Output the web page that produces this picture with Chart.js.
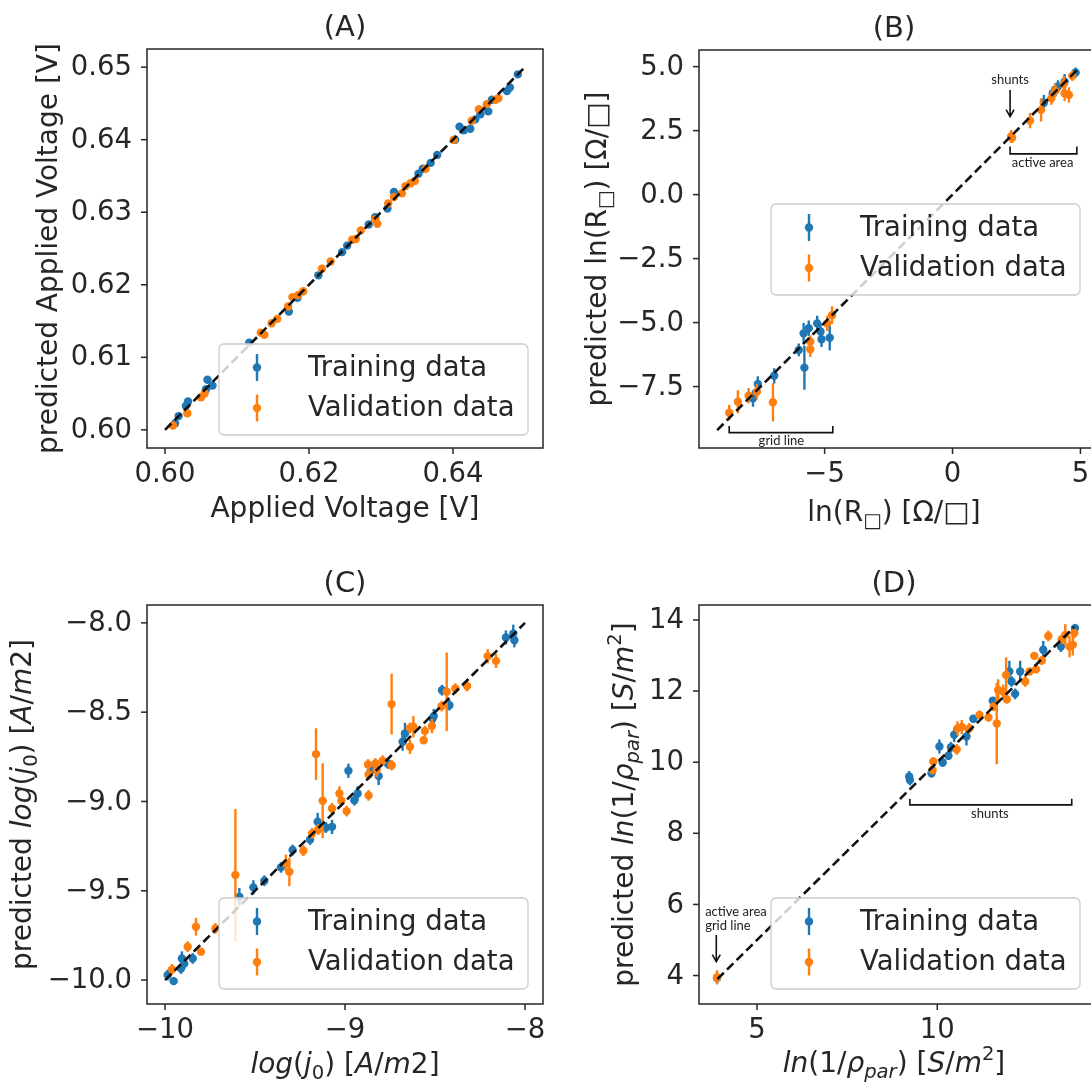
<!DOCTYPE html>
<html>
<head>
<meta charset="utf-8">
<script src="https://cdn.jsdelivr.net/npm/chart.js@4.4.0/dist/chart.umd.min.js"></script>
<style>
html, body { margin: 0; padding: 0; background: #fff; overflow: hidden; width: 1091px; height: 1086px; }
canvas { position: absolute; left: 0; top: 0; }
</style>
</head>
<body>
<canvas id="panel-a" width="1100" height="1086"></canvas>
<canvas id="panel-b" width="1100" height="1086"></canvas>
<canvas id="panel-c" width="1100" height="1086"></canvas>
<canvas id="panel-d" width="1100" height="1086"></canvas>
<script>
// ---- Panel A: applied voltage ----
const aTrainX = [0.6014, 0.6019, 0.6029, 0.6032, 0.6057, 0.6059, 0.6066, 0.6117, 0.6172, 0.6184, 0.6213, 0.6246, 0.6253, 0.6283, 0.6292, 0.6309, 0.6318, 0.6352, 0.6358, 0.6369, 0.6378, 0.6403, 0.6409, 0.6415, 0.6424, 0.6431, 0.6438, 0.6449, 0.6454, 0.6475, 0.6479, 0.6490];
const aTrainY = [0.6009, 0.6019, 0.6033, 0.6039, 0.6056, 0.6069, 0.6061, 0.6120, 0.6163, 0.6182, 0.6213, 0.6245, 0.6254, 0.6283, 0.6293, 0.6305, 0.6328, 0.6353, 0.6360, 0.6368, 0.6379, 0.6400, 0.6418, 0.6413, 0.6415, 0.6428, 0.6435, 0.6439, 0.6455, 0.6467, 0.6472, 0.6490];
const aTrainErr = [0.0002, 0.0003, 0.0003, 0.0002, 0.0003, 0.0002, 0.0003, 0.0002, 0.0003, 0.0003, 0.0002, 0.0002, 0.0003, 0.0002, 0.0003, 0.0002, 0.0005, 0.0002, 0.0003, 0.0002, 0.0002, 0.0003, 0.0002, 0.0003, 0.0002, 0.0003, 0.0002, 0.0003, 0.0002, 0.0003, 0.0002, 0.0002];
const aValX = [0.6011, 0.6031, 0.6050, 0.6055, 0.6133, 0.6138, 0.6148, 0.6156, 0.6171, 0.6177, 0.6185, 0.6192, 0.6218, 0.6230, 0.6260, 0.6265, 0.6272, 0.6292, 0.6295, 0.6310, 0.6318, 0.6329, 0.6334, 0.6341, 0.6347, 0.6362, 0.6401, 0.6426, 0.6436, 0.6447, 0.6459, 0.6463];
const aValY = [0.6006, 0.6023, 0.6045, 0.6050, 0.6134, 0.6131, 0.6147, 0.6153, 0.6170, 0.6183, 0.6186, 0.6191, 0.6222, 0.6232, 0.6262, 0.6263, 0.6275, 0.6290, 0.6284, 0.6312, 0.6321, 0.6326, 0.6336, 0.6340, 0.6343, 0.6360, 0.6400, 0.6426, 0.6442, 0.6449, 0.6455, 0.6457];
const aValErr = [0.0002, 0.0002, 0.0003, 0.0002, 0.0005, 0.0003, 0.0002, 0.0004, 0.0003, 0.0002, 0.0003, 0.0002, 0.0002, 0.0003, 0.0002, 0.0003, 0.0002, 0.0003, 0.0004, 0.0002, 0.0003, 0.0002, 0.0002, 0.0003, 0.0002, 0.0002, 0.0003, 0.0002, 0.0003, 0.0002, 0.0003, 0.0002];
const aLine = [0.600, 0.650];
const aXTicks = [0.60, 0.62, 0.64];
const aXTickLabels = ['0.60', '0.62', '0.64'];
const aYTicks = [0.60, 0.61, 0.62, 0.63, 0.64, 0.65];
const aYTickLabels = ['0.60', '0.61', '0.62', '0.63', '0.64', '0.65'];

// ---- Panel B: sheet resistance ----
const bTrainX = [-7.80, -7.61, -6.97, -6.01, -5.82, -5.79, -5.62, -5.29, -5.16, -5.12, -4.80, 3.57, 3.92, 4.02, 4.12, 4.38, 4.81];
const bTrainY = [-7.96, -7.40, -7.08, -6.07, -5.42, -6.76, -5.22, -5.03, -5.35, -5.65, -5.59, 3.59, 3.96, 4.10, 4.22, 4.41, 4.77];
const bTrainErr = [0.33, 0.30, 0.30, 0.25, 0.40, 0.86, 0.30, 0.30, 0.30, 0.30, 0.50, 0.30, 0.25, 0.25, 0.25, 0.30, 0.20];
const bValX = [-8.73, -8.39, -7.97, -7.65, -7.02, -5.56, -5.56, -4.90, -4.71, 2.29, 2.33, 3.03, 3.46, 3.86, 4.01, 4.35, 4.38, 4.55, 4.68];
const bValY = [-8.52, -8.09, -7.86, -7.70, -8.11, -5.74, -6.04, -5.03, -4.71, 2.27, 2.22, 2.89, 3.31, 3.76, 4.06, 4.32, 3.96, 3.89, 4.64];
const bValErr = [0.30, 0.45, 0.30, 0.30, 0.75, 0.25, 0.30, 0.30, 0.35, 0.25, 0.20, 0.30, 0.45, 0.25, 0.25, 0.30, 0.30, 0.30, 0.20];
const bLine = [-9.2, 4.9];
const bXTicks = [-5, 0, 5];
const bXTickLabels = ['\u22125', '0', '5'];
const bYTicks = [-7.5, -5, -2.5, 0, 2.5, 5];
const bYTickLabels = ['\u22127.5', '\u22125.0', '\u22122.5', '0.0', '2.5', '5.0'];

// ---- Panel C: saturation current ----
const cTrainX = [-9.985, -9.952, -9.906, -9.911, -9.893, -9.846, -9.587, -9.509, -9.448, -9.356, -9.291, -9.194, -9.152, -9.106, -9.072, -8.981, -8.948, -8.930, -8.856, -8.813, -8.763, -8.680, -8.667, -8.513, -8.507, -8.461, -8.420, -8.106, -8.065, -8.059];
const cTrainY = [-9.972, -10.006, -9.879, -9.935, -9.907, -9.879, -9.534, -9.481, -9.444, -9.369, -9.272, -9.213, -9.114, -9.146, -9.142, -8.828, -8.993, -8.955, -8.825, -8.858, -8.787, -8.666, -8.619, -8.535, -8.522, -8.377, -8.461, -8.082, -8.060, -8.097];
const cTrainErr = [0.03, 0.02, 0.04, 0.03, 0.03, 0.03, 0.05, 0.04, 0.03, 0.03, 0.03, 0.03, 0.05, 0.03, 0.04, 0.04, 0.03, 0.04, 0.03, 0.05, 0.03, 0.05, 0.06, 0.03, 0.04, 0.03, 0.03, 0.04, 0.05, 0.04];
const cValX = [-9.961, -9.874, -9.828, -9.800, -9.720, -9.609, -9.328, -9.309, -9.231, -9.183, -9.161, -9.148, -9.124, -9.072, -9.031, -9.020, -8.991, -8.872, -8.869, -8.869, -8.831, -8.824, -8.791, -8.741, -8.741, -8.639, -8.639, -8.620, -8.563, -8.556, -8.517, -8.463, -8.435, -8.387, -8.322, -8.207, -8.161];
const cValY = [-9.940, -9.813, -9.701, -9.841, -9.711, -9.412, -9.347, -9.394, -9.276, -9.179, -8.735, -9.157, -8.996, -9.039, -8.955, -8.996, -9.054, -8.793, -8.849, -8.966, -8.787, -8.825, -8.772, -8.797, -8.455, -8.588, -8.694, -8.582, -8.657, -8.606, -8.578, -8.466, -8.386, -8.368, -8.354, -8.187, -8.213];
const cValErr = [0.03, 0.03, 0.05, 0.02, 0.03, 0.37, 0.05, 0.08, 0.03, 0.03, 0.145, 0.03, 0.21, 0.03, 0.04, 0.03, 0.03, 0.03, 0.03, 0.03, 0.03, 0.04, 0.03, 0.03, 0.17, 0.03, 0.04, 0.06, 0.02, 0.03, 0.04, 0.03, 0.22, 0.03, 0.03, 0.04, 0.04];
const cLine = [-10, -8];
const cXTicks = [-10, -9, -8];
const cXTickLabels = ['\u221210', '\u22129', '\u22128'];
const cYTicks = [-10, -9.5, -9, -8.5, -8];
const cYTickLabels = ['\u221210.0', '\u22129.5', '\u22129.0', '\u22128.5', '\u22128.0'];

// ---- Panel D: parallel conductance ----
const dTrainX = [3.89, 9.22, 9.24, 9.84, 10.06, 10.15, 10.31, 10.38, 10.47, 10.81, 11.00, 11.54, 12.00, 12.06, 12.16, 12.30, 12.94, 13.43, 13.82];
const dTrainY = [3.93, 9.60, 9.50, 9.69, 10.44, 9.99, 10.18, 10.42, 10.77, 10.72, 11.22, 11.73, 12.55, 12.27, 11.92, 12.55, 13.16, 13.25, 13.77];
const dTrainErr = [0.15, 0.15, 0.15, 0.12, 0.20, 0.12, 0.12, 0.15, 0.20, 0.25, 0.10, 0.10, 0.30, 0.15, 0.15, 0.30, 0.25, 0.15, 0.12];
const dValX = [3.89, 9.87, 9.89, 10.54, 10.56, 10.68, 10.89, 11.17, 11.42, 11.56, 11.65, 11.69, 11.83, 11.91, 11.93, 12.44, 12.56, 12.69, 12.74, 12.90, 13.08, 13.45, 13.55, 13.67, 13.76, 13.80];
const dValY = [3.95, 9.78, 10.02, 10.36, 10.95, 10.99, 10.95, 11.33, 11.26, 11.56, 11.09, 12.03, 11.98, 12.45, 11.77, 12.27, 12.55, 12.99, 12.61, 12.86, 13.55, 13.46, 13.58, 13.25, 13.30, 13.63];
const dValErr = [0.20, 0.12, 0.12, 0.15, 0.20, 0.20, 0.15, 0.12, 0.12, 0.12, 1.15, 0.30, 0.20, 0.50, 0.12, 0.15, 0.10, 0.10, 0.10, 0.12, 0.15, 0.12, 0.30, 0.30, 0.30, 0.15];
const dLine = [3.9, 13.8];
const dXTicks = [5, 10];
const dXTickLabels = ['5', '10'];
const dYTicks = [4, 6, 8, 10, 12, 14];
const dYTickLabels = ['4', '6', '8', '10', '12', '14'];

const BLUE = '#1f77b4';
const ORANGE = '#ff7f0e';
const INK = '#262626';
const FONT = '"DejaVu Sans"';
const PAGE_W = 1100, PAGE_H = 1086;

// rich text parts: [text, style] - style letters: i italic, b subscript, p superscript
const jLabel = [['log', 'i'], ['(', ''], ['j', 'i'], ['0', 'b'], [') [', ''], ['A', 'i'], ['/', ''], ['m', 'i'], ['2', ''], [']', '']];
const rhoLabel = [['ln', 'i'], ['(1/', ''], ['\u03c1', 'i'], ['par', 'ib'], [') [', ''], ['S', 'i'], ['/', ''], ['m', 'i'], ['2', 'p'], [']', '']];
const rshLabel = [['ln(R', ''], ['\u25a1', 'b'], [') [\u03a9/\u25a1]', '']];

const panels = [
    {
        id: 'panel-a', title: '(A)',
        area: { l: 147, t: 49, r: 543, b: 448 },
        xRange: [0.5975, 0.6525], yRange: [0.5975, 0.6525],
        train: [aTrainX, aTrainY, aTrainErr], val: [aValX, aValY, aValErr], line: aLine,
        xTicks: aXTicks, xTickLabels: aXTickLabels, yTicks: aYTicks, yTickLabels: aYTickLabels,
        xLabel: [['Applied Voltage [V]', '']], yLabel: [['predicted Applied Voltage [V]', '']],
        xLabelY: 517, yLabelX: 57,
        legendBox: { r: 528, b: 435 },
        notes: []
    },
    {
        id: 'panel-b', title: '(B)',
        area: { l: 699, t: 50, r: 1097, b: 448 },
        xRange: [-9.91, 5.6], yRange: [-9.9, 5.65],
        train: [bTrainX, bTrainY, bTrainErr], val: [bValX, bValY, bValErr], line: bLine,
        xTicks: bXTicks, xTickLabels: bXTickLabels, yTicks: bYTicks, yTickLabels: bYTickLabels,
        xLabel: rshLabel, yLabel: [['predicted ', '']].concat(rshLabel),
        xLabelY: 521, yLabelX: 606,
        legendBox: { r: 1080, b: 295 },
        notes: [
            { kind: 'text', x: 2.25, y: 4.5, text: 'shunts' },
            { kind: 'arrow', x: 2.25, y0: 4.09, y1: 3.05 },
            { kind: 'bracket', x0: 2.25, x1: 4.86, y: 1.59, y1: 1.875 },
            { kind: 'text', x: 3.52, y: 1.25, text: 'active area' },
            { kind: 'bracket', x0: -8.73, x1: -4.68, y: -9.30, y1: -9.04 },
            { kind: 'text', x: -6.69, y: -9.62, text: 'grid line' }
        ]
    },
    {
        id: 'panel-c', title: '(C)',
        area: { l: 147, t: 605, r: 543, b: 1004 },
        xRange: [-10.1, -7.9], yRange: [-10.134, -7.9],
        train: [cTrainX, cTrainY, cTrainErr], val: [cValX, cValY, cValErr], line: cLine,
        xTicks: cXTicks, xTickLabels: cXTickLabels, yTicks: cYTicks, yTickLabels: cYTickLabels,
        xLabel: jLabel, yLabel: [['predicted ', '']].concat(jLabel),
        xLabelY: 1073, yLabelX: 31,
        legendBox: { r: 528, b: 989 },
        notes: []
    },
    {
        id: 'panel-d', title: '(D)',
        area: { l: 699, t: 605, r: 1093, b: 1004 },
        xRange: [3.39, 14.32], yRange: [3.2, 14.42],
        train: [dTrainX, dTrainY, dTrainErr], val: [dValX, dValY, dValErr], line: dLine,
        xTicks: dXTicks, xTickLabels: dXTickLabels, yTicks: dYTicks, yTickLabels: dYTickLabels,
        xLabel: rhoLabel, yLabel: [['predicted ', '']].concat(rhoLabel),
        xLabelY: 1072, yLabelX: 633,
        legendBox: { r: 1080, b: 989 },
        notes: [
            { kind: 'bracket', x0: 9.24, x1: 13.73, y: 8.80, y1: 8.97 },
            { kind: 'text', x: 11.46, y: 8.56, text: 'shunts' },
            { kind: 'text', x: 3.56, y: 5.78, text: 'active area', align: 'left' },
            { kind: 'text', x: 3.56, y: 5.40, text: 'grid line', align: 'left' },
            { kind: 'arrow', x: 3.87, y0: 5.14, y1: 4.39 }
        ]
    }
];

// Draw text made of several styled pieces, centred on (x, y) baseline
function drawRich(ctx, parts, x, y, size, rotated) {
    ctx.save();
    ctx.translate(x, y);
    if (rotated) ctx.rotate(-Math.PI / 2);
    ctx.fillStyle = INK;
    ctx.textBaseline = 'alphabetic';
    ctx.textAlign = 'left';
    const pieces = parts.map(([text, style]) => {
        const small = style.includes('b') || style.includes('p');
        const fs = small ? size * 0.7 : size;
        const font = (style.includes('i') ? 'italic ' : '') + fs + 'px ' + FONT;
        ctx.font = font;
        const shift = style.includes('b') ? size * 0.22 : style.includes('p') ? -size * 0.42 : 0;
        return { text, font, shift, w: ctx.measureText(text).width };
    });
    const total = pieces.reduce((s, p) => s + p.w, 0);
    let cx = -total / 2;
    pieces.forEach(p => {
        ctx.font = p.font;
        ctx.fillText(p.text, cx, p.shift);
        cx += p.w;
    });
    ctx.restore();
}

// Vertical error bars, drawn just before each dataset's points
const errorBars = {
    id: 'errorBars',
    beforeDatasetDraw(chart, args) {
        const ds = chart.data.datasets[args.index];
        if (!ds.yErr) return;
        const { ctx, chartArea, scales: { x, y } } = chart;
        ctx.save();
        ctx.beginPath();
        ctx.rect(chartArea.left, chartArea.top, chartArea.width, chartArea.height);
        ctx.clip();
        ctx.strokeStyle = ds.backgroundColor;
        ctx.lineWidth = 2.4;
        ds.data.forEach((p, i) => {
            const px = x.getPixelForValue(p.x);
            ctx.beginPath();
            ctx.moveTo(px, y.getPixelForValue(p.y - ds.yErr[i]));
            ctx.lineTo(px, y.getPixelForValue(p.y + ds.yErr[i]));
            ctx.stroke();
        });
        ctx.restore();
    }
};

// Axes frame, ticks, labels, title, notes and legend
const decor = {
    id: 'decor',
    afterDraw(chart) {
        const panel = chart.options.plugins.decor.panel;
        const { ctx, chartArea: a, scales: { x, y } } = chart;
        ctx.save();

        // frame
        ctx.strokeStyle = INK;
        ctx.lineWidth = 1.5;
        ctx.strokeRect(a.left, a.top, a.right - a.left, a.bottom - a.top);

        // ticks
        ctx.fillStyle = INK;
        ctx.font = '27.5px ' + FONT;
        panel.xTicks.forEach((v, i) => {
            const px = x.getPixelForValue(v);
            ctx.beginPath();
            ctx.moveTo(px, a.bottom);
            ctx.lineTo(px, a.bottom + 6);
            ctx.stroke();
            ctx.textAlign = 'center';
            ctx.textBaseline = 'middle';
            ctx.fillText(panel.xTickLabels[i], px, a.bottom + 27);
        });
        panel.yTicks.forEach((v, i) => {
            const py = y.getPixelForValue(v);
            ctx.beginPath();
            ctx.moveTo(a.left, py);
            ctx.lineTo(a.left - 6, py);
            ctx.stroke();
            ctx.textAlign = 'right';
            ctx.textBaseline = 'middle';
            ctx.fillText(panel.yTickLabels[i], a.left - 15, py + 1);
        });

        // axis labels and title
        drawRich(ctx, panel.xLabel, (a.left + Math.min(a.right, 1089)) / 2, panel.xLabelY, 28, false);
        drawRich(ctx, panel.yLabel, panel.yLabelX, (a.top + a.bottom) / 2, 28, true);
        ctx.fillStyle = INK;
        ctx.font = '29px ' + FONT;
        ctx.textAlign = 'center';
        ctx.textBaseline = 'alphabetic';
        ctx.fillText(panel.title, (a.left + Math.min(a.right, 1089)) / 2, a.top - 13);

        // hand-made notes
        ctx.strokeStyle = '#111';
        ctx.fillStyle = '#222';
        ctx.lineWidth = 1.6;
        ctx.font = '13px Lato';
        panel.notes.forEach(n => {
            if (n.kind === 'text') {
                ctx.textAlign = n.align || 'center';
                ctx.textBaseline = 'middle';
                ctx.fillText(n.text, x.getPixelForValue(n.x), y.getPixelForValue(n.y));
            } else if (n.kind === 'arrow') {
                const px = x.getPixelForValue(n.x);
                const y0 = y.getPixelForValue(n.y0), y1 = y.getPixelForValue(n.y1);
                ctx.beginPath();
                ctx.moveTo(px, y0);
                ctx.lineTo(px, y1);
                ctx.moveTo(px - 4, y1 - 7);
                ctx.lineTo(px, y1);
                ctx.lineTo(px + 4, y1 - 7);
                ctx.stroke();
            } else if (n.kind === 'bracket') {
                const x0 = x.getPixelForValue(n.x0), x1 = x.getPixelForValue(n.x1);
                const py = y.getPixelForValue(n.y), py1 = y.getPixelForValue(n.y1);
                ctx.beginPath();
                ctx.moveTo(x0, py1);
                ctx.lineTo(x0, py);
                ctx.lineTo(x1, py);
                ctx.lineTo(x1, py1);
                ctx.stroke();
            }
        });

        // legend box
        const w = 309, h = 91;
        const bx = panel.legendBox.r - w;
        const by = panel.legendBox.b - h;
        ctx.beginPath();
        ctx.roundRect(bx, by, w, h, 5);
        ctx.fillStyle = 'rgba(255,255,255,0.8)';
        ctx.fill();
        ctx.strokeStyle = '#cccccc';
        ctx.lineWidth = 1.3;
        ctx.stroke();
        [['Training data', BLUE, 23.5], ['Validation data', ORANGE, 64]].forEach(([label, color, dy]) => {
            const cy = by + dy;
            ctx.strokeStyle = color;
            ctx.fillStyle = color;
            ctx.lineWidth = 2.4;
            ctx.beginPath();
            ctx.moveTo(bx + 38, cy - 13.5);
            ctx.lineTo(bx + 38, cy + 13.5);
            ctx.stroke();
            ctx.beginPath();
            ctx.arc(bx + 38, cy, 4.2, 0, Math.PI * 2);
            ctx.fill();
            ctx.fillStyle = INK;
            ctx.font = '27.5px ' + FONT;
            ctx.textAlign = 'left';
            ctx.textBaseline = 'middle';
            ctx.fillText(label, bx + 89, cy + 1);
        });
        ctx.restore();
    }
};

function toPoints(xs, ys) {
    return xs.map((v, i) => ({ x: v, y: ys[i] }));
}

panels.forEach(panel => {
    const ctx = document.getElementById(panel.id).getContext('2d');
    new Chart(ctx, {
        type: 'scatter',
        data: {
            datasets: [
                {
                    label: 'Training data',
                    data: toPoints(panel.train[0], panel.train[1]),
                    yErr: panel.train[2],
                    backgroundColor: BLUE,
                    pointRadius: 4.2,
                    borderWidth: 0,
                    order: 2
                },
                {
                    label: 'Validation data',
                    data: toPoints(panel.val[0], panel.val[1]),
                    yErr: panel.val[2],
                    backgroundColor: ORANGE,
                    pointRadius: 4.2,
                    borderWidth: 0,
                    order: 1
                },
                {
                    label: 'ideal',
                    data: toPoints(panel.line, panel.line),
                    showLine: true,
                    borderColor: '#111',
                    borderWidth: 2.6,
                    borderDash: [9, 4.5],
                    pointRadius: 0,
                    order: 0
                }
            ]
        },
        options: {
            responsive: false,
            animation: false,
            layout: {
                padding: {
                    left: panel.area.l,
                    top: panel.area.t,
                    right: PAGE_W - panel.area.r,
                    bottom: PAGE_H - panel.area.b
                }
            },
            scales: {
                x: { type: 'linear', display: false, min: panel.xRange[0], max: panel.xRange[1] },
                y: { type: 'linear', display: false, min: panel.yRange[0], max: panel.yRange[1] }
            },
            plugins: {
                legend: { display: false },
                tooltip: { enabled: false },
                decor: { panel: panel }
            }
        },
        plugins: [errorBars, decor]
    });
});
</script>
</body>
</html>
